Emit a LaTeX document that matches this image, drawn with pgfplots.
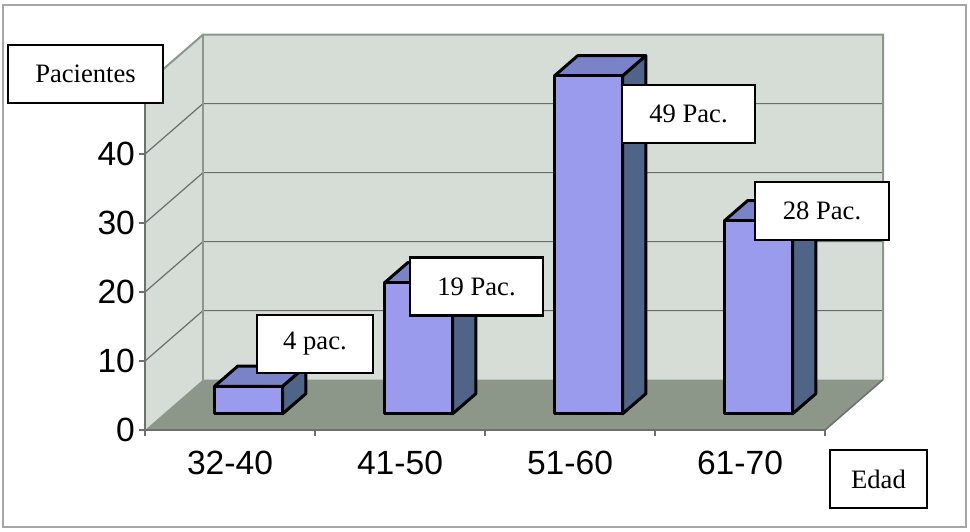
\documentclass[border=0pt]{standalone}
\usepackage{pgfplots}
\pgfplotsset{compat=1.18}
\usepackage{pgfplotstable}
\usepackage{fontspec}
\setmainfont{Liberation Serif}
\setsansfont{Liberation Sans}

\definecolor{wall}{HTML}{D6DDD6}
\definecolor{floorc}{HTML}{8C978A}
\definecolor{barfront}{HTML}{9B9BEE}
\definecolor{bartop}{HTML}{7A82C8}
\definecolor{barside}{HTML}{4F6486}
\definecolor{gridc}{HTML}{6A6E6A}
\definecolor{edgec}{HTML}{8C968C}
\definecolor{axisc}{HTML}{6E716E}

% patients per age group
\pgfplotstableread{
pos value
0 4
1 19
2 49
3 28
}\pacientes

% depth of the box in axis units
\newcommand\DX{0.3412}
\newcommand\DY{7.3}

% one 3-D column: #1 = category position, #2 = value
\newcommand\barbox[2]{%
  \pgfmathsetmacro\xa{#1-0.2+0.32*\DX}%
  \pgfmathsetmacro\xb{#1+0.2+0.32*\DX}%
  \pgfmathsetmacro\xc{#1-0.2+0.72*\DX}%
  \pgfmathsetmacro\xd{#1+0.2+0.72*\DX}%
  \pgfmathsetmacro\ya{0.32*\DY}%
  \pgfmathsetmacro\yb{#2+0.32*\DY}%
  \pgfmathsetmacro\yc{0.72*\DY}%
  \pgfmathsetmacro\yd{#2+0.72*\DY}%
  \addplot[barline, fill=barside] coordinates {(\xb,\ya) (\xd,\yc) (\xd,\yd) (\xb,\yb)} -- cycle;
  \addplot[barline, fill=bartop] coordinates {(\xa,\yb) (\xb,\yb) (\xd,\yd) (\xc,\yd)} -- cycle;
  \addplot[barline, fill=barfront] coordinates {(\xa,\ya) (\xb,\ya) (\xb,\yb) (\xa,\yb)} -- cycle;
}

\tikzset{
  barline/.style={draw=black, line width=1.5pt, line join=round},
  box/.style={draw=black, line width=1.2pt, fill=white, inner sep=0pt,
    minimum height=29pt, font=\fontsize{13.3}{13.3}\selectfont},
}

\begin{document}
\begin{tikzpicture}
\begin{axis}[
  name=ax,
  scale only axis,
  width=340pt, height=172.5pt,
  xmin=-0.5, xmax=3.5, ymin=0, ymax=50,
  clip=false, axis on top,
  axis x line*=bottom, axis y line*=left,
  axis line style={-, draw=axisc, line width=1pt},
  xtick={0,1,2,3},
  xticklabels={32-40,41-50,51-60,61-70},
  major x tick style={draw=none},
  minor xtick={-0.5,0.5,1.5,2.5,3.5},
  ytick={0,10,20,30,40},
  tick align=outside,
  tick style={draw=axisc, line width=0.6pt},
  major tick length=3pt, minor tick length=3pt,
  tick label style={font=\sffamily\fontsize{16.8}{16.8}\selectfont},
  /pgf/number format/assume math mode=true,
  yticklabel style={xshift=1.5pt},
  xticklabel style={yshift=-4pt},
]
% side and back walls
\addplot[draw=none, fill=wall] coordinates {(-0.5,0) (-0.5,50) (-0.5+\DX,50+\DY) (-0.5+\DX,\DY)} -- cycle;
\addplot[draw=none, fill=wall] coordinates {(-0.5+\DX,\DY) (3.5+\DX,\DY) (3.5+\DX,50+\DY) (-0.5+\DX,50+\DY)} -- cycle;
% grid lines on the walls
\pgfplotsinvokeforeach{10,20,30,40}{
  \addplot[draw=gridc, line width=0.6pt] coordinates {(-0.5,#1) (-0.5+\DX,#1+\DY) (3.5+\DX,#1+\DY)};
}
% wall edges
\addplot[draw=edgec, line width=1pt] coordinates {(-0.5,50) (-0.5+\DX,50+\DY) (3.5+\DX,50+\DY) (3.5+\DX,\DY)};
\addplot[draw=edgec, line width=1pt] coordinates {(-0.5+\DX,\DY) (-0.5+\DX,50+\DY)};
% floor
\addplot[draw=none, fill=floorc] coordinates {(-0.5,0) (3.5,0) (3.5+\DX,\DY) (-0.5+\DX,\DY)} -- cycle;
\addplot[draw=axisc, line width=0.8pt] coordinates {(3.5,0) (3.5+\DX,\DY)};
% columns
\pgfplotsinvokeforeach{0,1,2,3}{
  \pgfplotstablegetelem{#1}{value}\of\pacientes
  \let\barval\pgfplotsretval
  \barbox{#1}{\barval}
}
\end{axis}
\pgfresetboundingbox
\useasboundingbox ([shift={(-72.5pt,-50.5pt)}]ax.south west) rectangle ([shift={(412.5pt,215pt)}]ax.south west);
\draw[gray!70, line width=0.8pt] ([shift={(-71pt,-48.5pt)}]ax.south west) rectangle ([shift={(410.5pt,212.5pt)}]ax.south west);
% text boxes
\node[box, minimum width=77.5pt] at ([shift={(-29.75pt,178pt)}]ax.south west) {Pacientes};
\node[box, minimum width=48.5pt] at ([shift={(366.75pt,-24.5pt)}]ax.south west) {Edad};
\node[box, minimum width=58pt]   at ([shift={(85pt,43pt)}]ax.south west) {4 pac.};
\node[box, minimum width=66.5pt] at ([shift={(165.75pt,71.75pt)}]ax.south west) {19 Pac.};
\node[box, minimum width=66.5pt] at ([shift={(271.75pt,158pt)}]ax.south west) {49 Pac.};
\node[box, minimum width=67pt]   at ([shift={(338.5pt,109.5pt)}]ax.south west) {28 Pac.};
\end{tikzpicture}
\end{document}
